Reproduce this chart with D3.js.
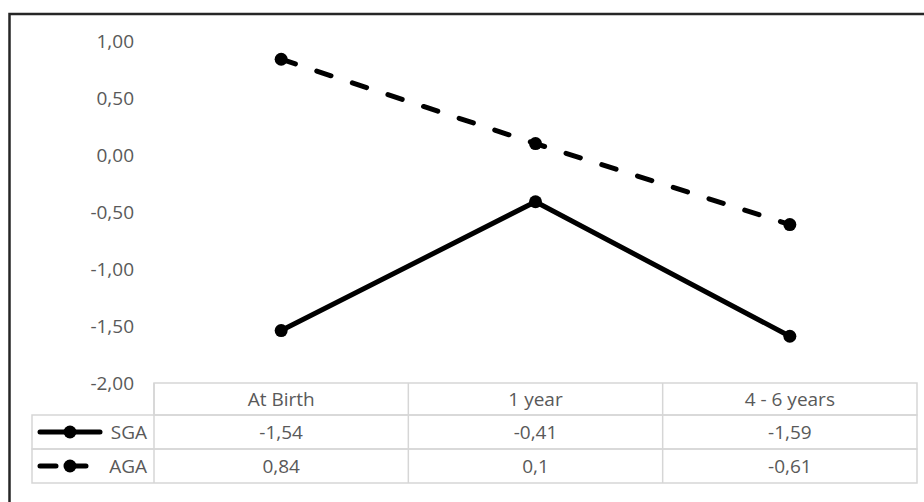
<!DOCTYPE html>
<html><head><meta charset="utf-8">
<script src="https://cdn.jsdelivr.net/npm/d3@7"></script>
<style>
html,body{margin:0;padding:0;background:#fff;}
svg{display:block;}
text{font-family:"Open Sans",sans-serif;fill:#595959;}
</style></head>
<body>
<svg id="c" width="924" height="502"></svg>
<script>
const categories = ["At Birth", "1 year", "4 - 6 years"];
const seriesNames = ["SGA", "AGA"];
const sgaValues = [-1.54, -0.41, -1.59];
const agaValues = [0.84, 0.1, -0.61];
const sgaLabels = ["-1,54", "-0,41", "-1,59"];
const agaLabels = ["0,84", "0,1", "-0,61"];
const yTicks = [1, 0.5, 0, -0.5, -1, -1.5, -2];

const series = [
  {name: seriesNames[0], values: sgaValues, labels: sgaLabels, dash: null},
  {name: seriesNames[1], values: agaValues, labels: agaLabels, dash: "15 22.5"}
];

const FS = 19;
const svg = d3.select("#c");
const fmt = v => d3.format(".2f")(v).replace(".", ",").replace("−", "-");

// outer frame
svg.append("rect").attr("x", 9.5).attr("y", 14).attr("width", 940).attr("height", 520)
  .attr("fill", "none").attr("stroke", "#262626").attr("stroke-width", 2.5);

const x = d3.scaleBand().domain(categories).range([154, 917]);
const y = d3.scaleLinear().domain([-2, 1]).range([383, 41]);

// y axis labels
const yAxis = d3.axisLeft(y).tickValues(yTicks).tickFormat(fmt).tickSize(0).tickPadding(0);
const ya = svg.append("g").attr("transform", "translate(134,0)").call(yAxis);
ya.select(".domain").remove();
ya.selectAll("text").attr("font-size", FS).attr("fill", "#595959")
  .attr("font-family", "'Open Sans', sans-serif").attr("dy", "0.35em");

// lines
const line = d3.line().x((d, i) => x(categories[i]) + x.bandwidth() / 2).y(d => y(d));
series.forEach(s => {
  const g = svg.append("g");
  g.append("path").datum(s.values).attr("d", line)
    .attr("fill", "none").attr("stroke", "#000").attr("stroke-width", 5)
    .attr("stroke-linecap", "round").attr("stroke-linejoin", "round")
    .attr("stroke-dasharray", s.dash);
  g.selectAll("circle").data(s.values).join("circle")
    .attr("cx", (d, i) => x(categories[i]) + x.bandwidth() / 2)
    .attr("cy", d => y(d)).attr("r", 6.5).attr("fill", "#000");
});

// data table
const rowY = [383, 415, 449, 483];
const tableLeft = 32;
const gridColor = "#d6d6d6";
const tg = svg.append("g");
tg.append("rect").attr("x", 154).attr("y", rowY[0]).attr("width", 917 - 154).attr("height", rowY[1] - rowY[0])
  .attr("fill", "none").attr("stroke", gridColor).attr("stroke-width", 1.5);
[1, 2].forEach(r => {
  tg.append("rect").attr("x", tableLeft).attr("y", rowY[r]).attr("width", 917 - tableLeft).attr("height", rowY[r + 1] - rowY[r])
    .attr("fill", "none").attr("stroke", gridColor).attr("stroke-width", 1.5);
});
categories.forEach(c => {
  tg.append("line").attr("x1", x(c)).attr("x2", x(c)).attr("y1", rowY[0]).attr("y2", rowY[3])
    .attr("stroke", gridColor).attr("stroke-width", 1.5);
});
tg.selectAll("text.hdr").data(categories).join("text").attr("class", "hdr")
  .attr("x", d => x(d) + x.bandwidth() / 2).attr("y", (rowY[0] + rowY[1]) / 2)
  .attr("dy", "0.35em").attr("text-anchor", "middle").attr("font-size", FS).text(d => d);

series.forEach((s, r) => {
  const cy = (rowY[r + 1] + rowY[r + 2]) / 2;
  tg.selectAll("text.v" + r).data(s.labels).join("text").attr("class", "v" + r)
    .attr("x", (d, i) => x(categories[i]) + x.bandwidth() / 2).attr("y", cy)
    .attr("dy", "0.35em").attr("text-anchor", "middle").attr("font-size", FS).text(d => d);
  const kg = tg.append("g");
  kg.append("line").attr("x1", 40).attr("x2", 100).attr("y1", cy).attr("y2", cy)
    .attr("stroke", "#000").attr("stroke-width", 5).attr("stroke-linecap", "round")
    .attr("stroke-dasharray", s.dash ? "16 14" : null);
  kg.append("circle").attr("cx", 70).attr("cy", cy).attr("r", 6.5).attr("fill", "#000");
  kg.append("text").attr("x", 147).attr("y", cy).attr("dy", "0.35em").attr("text-anchor", "end")
    .attr("font-size", FS).text(s.name);
});
</script>
</body></html>
